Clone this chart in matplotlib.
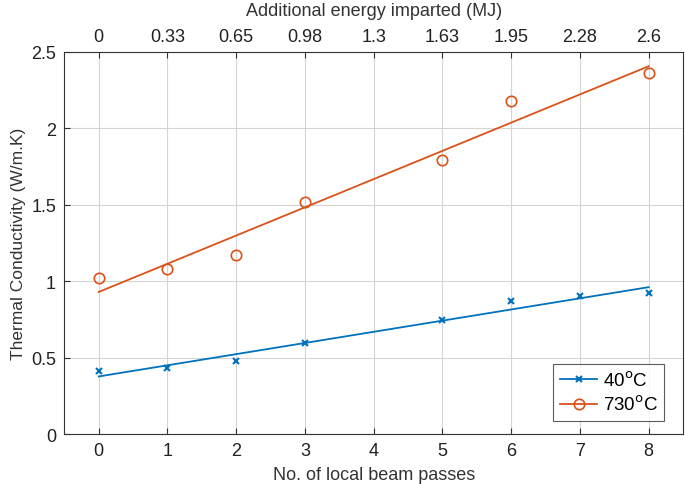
import numpy as np
import matplotlib.pyplot as plt

plt.rcParams['font.family'] = ['Liberation Sans', 'DejaVu Sans']

# data
passes_40 = np.array([0, 1, 2, 3, 5, 6, 7, 8])
tc_40 = np.array([0.41, 0.43, 0.48, 0.595, 0.745, 0.87, 0.90, 0.92])
passes_730 = np.array([0, 1, 2, 3, 5, 6, 8])
tc_730 = np.array([1.02, 1.08, 1.17, 1.52, 1.79, 2.18, 2.36])
energy_labels = ['0', '0.33', '0.65', '0.98', '1.3', '1.63', '1.95', '2.28', '2.6']

blue = '#0072BD'
orange = '#D95319'
txt = '#222222'

fig = plt.figure(figsize=(6.85, 4.85), dpi=100)
ax = fig.add_axes([0.094, 0.103, 0.903, 0.788])

# linear fits
xf = np.array([0, 8])
p40 = np.polyfit(passes_40, tc_40, 1)
p730 = np.polyfit(passes_730, tc_730, 1)

ax.plot(xf, np.polyval(p40, xf), color=blue, lw=1.3)
ax.plot(xf, np.polyval(p730, xf), color=orange, lw=1.3)
ax.plot(passes_40, tc_40, 'x', color=blue, ms=5, mew=1.5)
ax.plot(passes_730, tc_730, 'o', color=orange, ms=7.5, mfc='none', mew=1.2)

# legend handles
h1, = ax.plot([], [], '-x', color=blue, ms=5, mew=1.5, lw=1.3)
h2, = ax.plot([], [], '-o', color=orange, ms=7.5, mfc='none', mew=1.2, lw=1.3)
leg = ax.legend([h1, h2], ['40$^\\mathrm{o}$C', '730$^\\mathrm{o}$C'],
                loc='lower right', bbox_to_anchor=(0.97, 0.035),
                fontsize=13.5, fancybox=False, edgecolor='#333333',
                handlelength=2.0, handletextpad=0.3, borderpad=0.35,
                labelspacing=0.25, borderaxespad=0)
leg.get_frame().set_linewidth(0.8)

ax.set_xlim(-0.5, 8.5)
ax.set_ylim(0, 2.5)
ax.set_xticks(range(9))
ax.set_yticks([0, 0.5, 1, 1.5, 2, 2.5])
ax.set_yticklabels(['0', '0.5', '1', '1.5', '2', '2.5'])
ax.grid(True, color='#d4d4d4', lw=0.8)
ax.set_axisbelow(True)
ax.tick_params(direction='in', labelsize=13, length=4, color='#333333',
               labelcolor=txt, pad=6)
for s in ax.spines.values():
    s.set_color('#333333')
    s.set_linewidth(0.8)

ax.set_xlabel('No. of local beam passes', fontsize=13, color='#333333', labelpad=5)
ax.set_ylabel('Thermal Conductivity (W/m.K)', fontsize=12.5, color='#333333', labelpad=4)

ax2 = ax.twiny()
ax2.set_xlim(ax.get_xlim())
ax2.set_xticks(range(9))
ax2.set_xticklabels(energy_labels)
ax2.tick_params(direction='in', labelsize=13, length=4, color='#333333',
                labelcolor=txt, pad=5)
ax2.set_xlabel('Additional energy imparted (MJ)', fontsize=13, color='#333333', labelpad=9)
for s in ax2.spines.values():
    s.set_visible(False)

fig.savefig('out.png', dpi=100)
